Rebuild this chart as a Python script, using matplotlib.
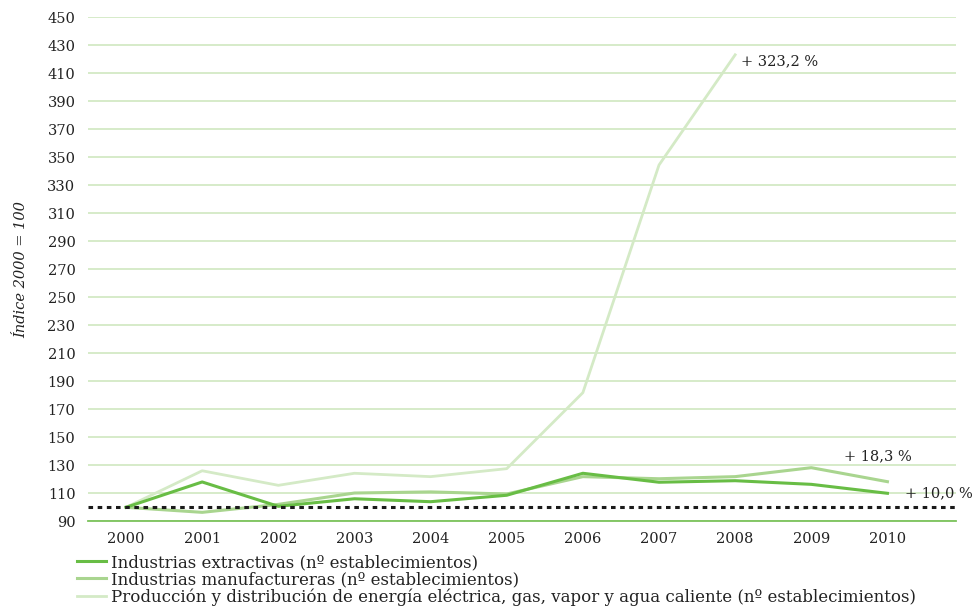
import matplotlib
matplotlib.use('Agg')
import matplotlib.pyplot as plt

years = ['2000', '2001', '2002', '2003', '2004', '2005', '2006', '2007', '2008', '2009', '2010']
extractivas = [100, 118.1, 100.7, 106.1, 104.0, 108.6, 124.3, 117.9, 119.0, 116.4, 110.0]
manufactureras = [100, 96.4, 102.1, 110.2, 111.0, 109.5, 121.9, 120.4, 121.9, 128.3, 118.3]
produccion = [100, 126.1, 115.7, 124.3, 121.9, 127.6, 181.9, 344.5, 423.2]
labels = ['Industrias extractivas (nº establecimientos)',
          'Industrias manufactureras (nº establecimientos)',
          'Producción y distribución de energía eléctrica, gas, vapor y agua caliente (nº establecimientos)']
yticks = list(range(90, 451, 20))

plt.rcParams['font.family'] = ['DejaVu Serif']
txt = '#222222'
fs = 10.5

fig = plt.figure(figsize=(9.72, 6.09), dpi=100)
ax = fig.add_axes([0.0905, 0.144, 0.893, 0.8276])

x = list(range(len(years)))
l1, = ax.plot(x, extractivas, color='#68bd45', lw=2.2, zorder=4)
l2, = ax.plot(x, manufactureras, color='#a9d58f', lw=2.2, zorder=3)
l3, = ax.plot(x[:len(produccion)], produccion, color='#d4eac6', lw=2.0, zorder=2)

# reference line at 100
ax.axhline(100, color='#1a1a1a', lw=2.2, ls=(0, (1.5, 1.5)), zorder=5)

ax.set_ylim(90, 450)
ax.set_xlim(-0.5, 10.9)
ax.set_yticks(yticks)
ax.set_xticks(x)
ax.set_xticklabels(years)
ax.grid(axis='y', color='#cfe7c0', lw=1.2, zorder=0)
ax.set_axisbelow(True)
for s in ['left', 'right', 'top']:
    ax.spines[s].set_visible(False)
ax.spines['bottom'].set_color('#7cc35c')
ax.spines['bottom'].set_linewidth(1.3)
ax.tick_params(axis='both', length=0, labelsize=fs, colors=txt)
ax.tick_params(axis='y', pad=9)
ax.tick_params(axis='x', pad=8)

ax.set_ylabel('Índice 2000 = 100', fontsize=fs, style='italic', color=txt, labelpad=14)

# end-of-series labels
ax.annotate('+ 323,2 %', xy=(8, produccion[8]), xytext=(4, -5), textcoords='offset points',
            fontsize=fs, color=txt, va='center', ha='left')
ax.annotate('+ 18,3 %', xy=(10, manufactureras[10]), xytext=(-7, 18), textcoords='offset points',
            fontsize=fs, color=txt, va='center', ha='center')
ax.annotate('+ 10,0 %', xy=(10, extractivas[10]), xytext=(13, 0), textcoords='offset points',
            fontsize=fs, color=txt, va='center', ha='left')

fig.legend([l1, l2, l3], labels, loc='upper left', bbox_to_anchor=(0.079, 0.09),
           frameon=False, fontsize=12.0, handlelength=1.75, handletextpad=0.3,
           labelspacing=0.0, borderaxespad=0, borderpad=0, labelcolor=txt)

fig.savefig('out.png', dpi=100)
